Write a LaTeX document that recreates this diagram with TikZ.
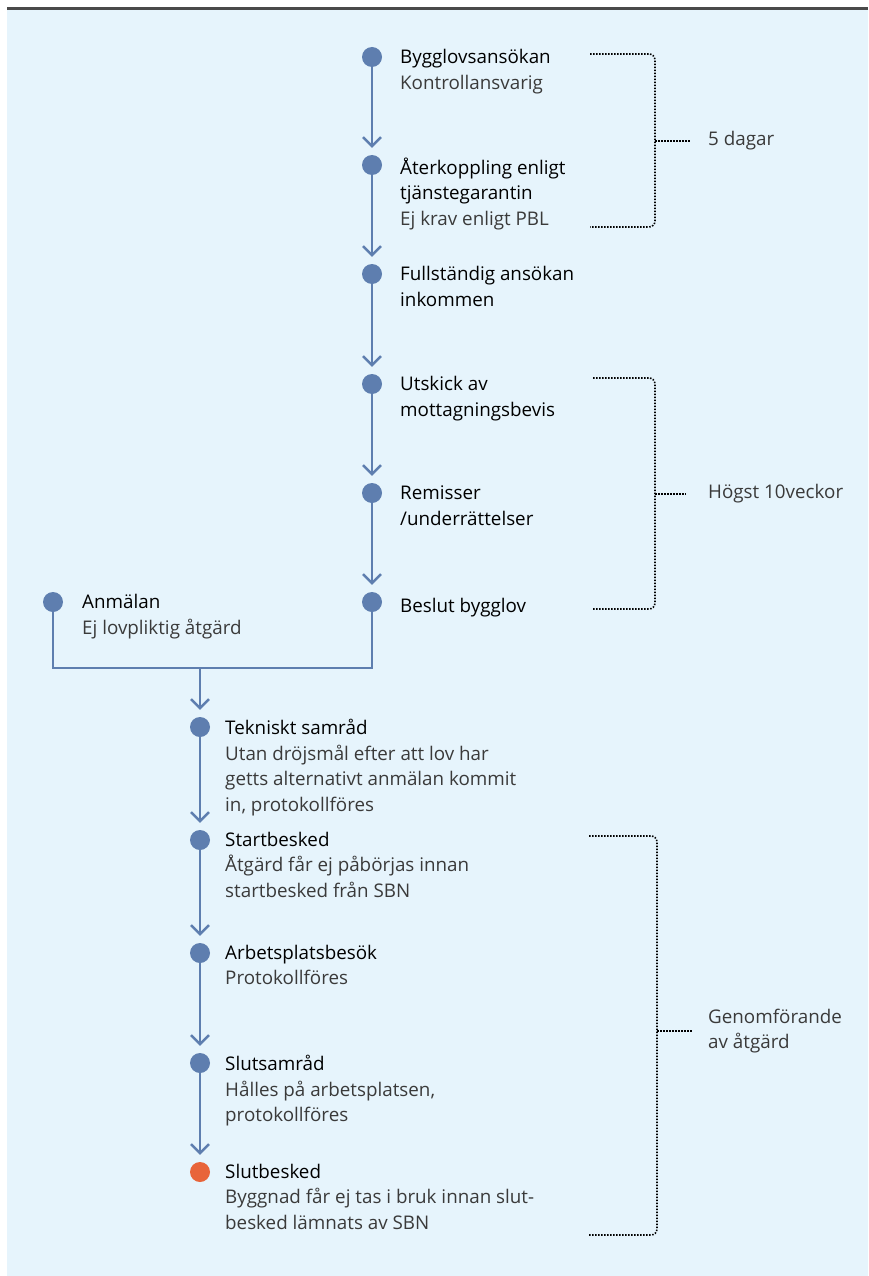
\documentclass[tikz,border=0pt]{standalone}
\usepackage{fontspec}
\setmainfont{Open Sans}
\usetikzlibrary{arrows.meta, positioning}
\definecolor{bgblue}{HTML}{E6F4FC}
\definecolor{flowblue}{HTML}{5E7EAF}
\definecolor{endorange}{HTML}{E8643A}
\definecolor{subgray}{HTML}{3A3A3A}
\definecolor{rulegray}{HTML}{4A4A4A}
\newcommand{\lighttext}[1]{{\color{subgray}#1}}

\begin{document}
\begin{tikzpicture}[x=1pt, y=-1pt,
    >={Straight Barb[length=9pt, width=18pt, line width=2.4pt]},
    stepdot/.style={circle, fill=flowblue, inner sep=0pt, minimum size=20pt},
    enddot/.style={stepdot, fill=endorange},
    flow/.style={draw=flowblue, line width=2.8pt},
    stepline/.style={flow, ->, shorten >=7pt},
    steptext/.style={anchor=north west, align=left, inner sep=0pt, text=black,
        font=\fontsize{18.8}{25.5}\selectfont, execute at begin node=\strut},
    timespan/.style={line width=1.6pt, dash pattern=on 1.5pt off 1.5pt, rounded corners=6pt},
    spantext/.style={anchor=west, align=left, inner sep=0pt, text=subgray,
        font=\fontsize{18.8}{25.5}\selectfont}]
    \useasboundingbox (0,0) rectangle (868,1276);
    \fill[white] (0,0) rectangle (868,1276);
    \fill[bgblue] (7,10) rectangle (868,1276);
    \draw[rulegray, line width=3pt] (7,8.5) -- (868,8.5);

    % bygglov
    \node[stepdot] (ansok) at (372,57) {};
    \node[stepdot] (aterk) at (372,165) {};
    \node[stepdot] (fullst) at (372,274) {};
    \node[stepdot] (utskick) at (372,384) {};
    \node[stepdot] (remiss) at (372,493) {};
    \node[stepdot] (beslut) at (372,602) {};
    \node[stepdot] (anmalan) at (53,602) {};

    \node[steptext] (ansoktxt) at ([shift={(28,-7.5)}]ansok.center) {Bygglovsansökan\\\lighttext{Kontrollansvarig}};
    \node[steptext] (aterktxt) at ([shift={(28,-7.5)}]aterk.center) {Återkoppling enligt\\tjänstegarantin\\\lighttext{Ej krav enligt PBL}};
    \node[steptext] (fullsttxt) at ([shift={(28,-7.5)}]fullst.center) {Fullständig ansökan\\inkommen};
    \node[steptext] (utskicktxt) at ([shift={(28,-7.5)}]utskick.center) {Utskick av\\mottagningsbevis};
    \node[steptext] (remisstxt) at ([shift={(28,-7.5)}]remiss.center) {Remisser\\/underrättelser};
    \node[steptext] (beslutxt) at ([shift={(28,-7.5)}]beslut.center) {Beslut bygglov};
    \node[steptext] (anmalantxt) at ([shift={(29,-7.5)}]anmalan.center) {Anmälan\\\lighttext{Ej lovpliktig åtgärd}};

    % genomforande
    \coordinate (merge) at (200,668);
    \node[stepdot] (teknik) at (200,727) {};
    \node[stepdot] (start) at (200,840) {};
    \node[stepdot] (besok) at (200,953) {};
    \node[stepdot] (slutsam) at (200,1063) {};
    \node[enddot] (slut) at (200,1172) {};

    \node[steptext] (teknitxt) at ([shift={(25,-8)}]teknik.center) {Tekniskt samråd\\\lighttext{Utan dröjsmål efter att lov har}\\\lighttext{getts alternativt anmälan kommit}\\\lighttext{in, protokollföres}};
    \node[steptext] (starttxt) at ([shift={(25,-8)}]start.center) {Startbesked\\\lighttext{Åtgärd får ej påbörjas innan}\\\lighttext{startbesked från SBN}};
    \node[steptext] (besoktxt) at ([shift={(25,-8)}]besok.center) {Arbetsplatsbesök\\\lighttext{Protokollföres}};
    \node[steptext] (slutsamtxt) at ([shift={(25,-8)}]slutsam.center) {Slutsamråd\\\lighttext{Hålles på arbetsplatsen,}\\\lighttext{protokollföres}};
    \node[steptext] (sluttxt) at ([shift={(25,-8)}]slut.center) {Slutbesked\\\lighttext{Byggnad får ej tas i bruk innan slut-}\\\lighttext{besked lämnats av SBN}};

    \draw[stepline] (ansok) -- (aterk);
    \draw[stepline] (aterk) -- (fullst);
    \draw[stepline] (fullst) -- (utskick);
    \draw[stepline] (utskick) -- (remiss);
    \draw[stepline] (remiss) -- (beslut);
    \draw[flow] (anmalan) |- (merge) -| (beslut);
    \draw[stepline] (merge) -- (teknik);
    \draw[stepline] (teknik) -- (start);
    \draw[stepline] (start) -- (besok);
    \draw[stepline] (besok) -- (slutsam);
    \draw[stepline] (slutsam) -- (slut);

    % tidsramar
    \node[spantext] (dagar) at (708,141) {5 dagar};
    \node[spantext] (veckor) at (708,494) {Högst 10veckor};
    \node[spantext] (genomf) at (708,1031) {Genomförande\\av åtgärd};
    \draw[timespan] (590,54) -- (655,54) -- (655,227) -- (590,227);
    \draw[timespan] (655,141) -- ([xshift=-18pt]dagar.west);
    \draw[timespan] (593,378) -- (655,378) -- (655,609) -- (593,609);
    \draw[timespan] (655,494) -- ([xshift=-22pt]veckor.west);
    \draw[timespan] (589,836) -- (657,836) -- (657,1235) -- (589,1235);
    \draw[timespan] (657,1031) -- ([xshift=-15pt]genomf.west);
\end{tikzpicture}
\end{document}
